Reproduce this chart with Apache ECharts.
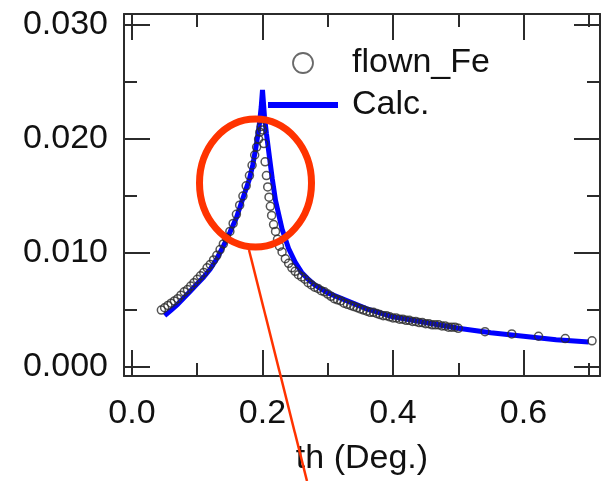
<!DOCTYPE html>
<html><head><meta charset="utf-8">
<script src="https://cdn.jsdelivr.net/npm/echarts@6/dist/echarts.min.js"></script>
<style>html,body{margin:0;padding:0;background:#fff}#c{width:612px;height:481px}</style>
</head><body><div id="c"></div>
<script>
// Tick values
const xMajor = [0, 0.2, 0.4, 0.6];
const xMinor = [0.1, 0.3, 0.5, 0.7];
const yMajor = [0, 0.01, 0.02, 0.03];
const yMinor = [0.005, 0.015, 0.025];

// Measured data: flown_Fe
const measX = [0.045,0.050,0.055,0.060,0.065,0.070,0.075,0.080,0.085,0.090,0.095,0.100,0.105,0.110,0.115,0.120,0.125,0.130,0.135,0.140,0.145,0.150,0.155,0.160,0.165,0.170,0.175,0.180,0.184,0.188,0.191,0.194,0.196,0.198,0.200,0.202,0.204,0.206,0.208,0.210,0.212,0.214,0.217,0.220,0.223,0.226,0.230,0.235,0.240,0.245,0.250,0.255,0.260,0.265,0.270,0.275,0.280,0.285,0.290,0.295,0.300,0.305,0.310,0.315,0.320,0.325,0.330,0.335,0.340,0.345,0.350,0.355,0.360,0.365,0.370,0.375,0.380,0.385,0.390,0.395,0.400,0.405,0.410,0.415,0.420,0.425,0.430,0.435,0.440,0.445,0.450,0.455,0.460,0.465,0.470,0.475,0.480,0.485,0.490,0.495,0.500,0.541,0.582,0.623,0.664,0.705];
const measY = [0.0050,0.0052,0.0054,0.0056,0.0058,0.0060,0.0063,0.0066,0.0068,0.0071,0.0074,0.0077,0.0080,0.0083,0.0087,0.0090,0.0094,0.0098,0.0103,0.0108,0.0113,0.0119,0.0126,0.0134,0.0142,0.0150,0.0159,0.0168,0.0177,0.0186,0.0193,0.0200,0.0206,0.0211,0.0208,0.0196,0.0180,0.0168,0.0158,0.0149,0.0141,0.0133,0.0125,0.0119,0.0112,0.0106,0.0101,0.0095,0.0091,0.0087,0.0084,0.0081,0.0079,0.0077,0.0074,0.0072,0.0070,0.0069,0.0067,0.0066,0.0064,0.0062,0.0060,0.0059,0.0058,0.0056,0.0055,0.0054,0.0053,0.0052,0.0051,0.0050,0.0049,0.0048,0.0048,0.0047,0.0046,0.0045,0.0045,0.0044,0.0043,0.0043,0.0042,0.0042,0.0041,0.0041,0.0040,0.0040,0.0039,0.0039,0.0038,0.0038,0.0037,0.0037,0.0037,0.0036,0.0036,0.0035,0.0035,0.0035,0.0034,0.0031,0.0029,0.0027,0.0025,0.0023];

// Calculated curve: Calc.
const calcX = [0.05,0.06,0.07,0.08,0.09,0.10,0.11,0.12,0.13,0.14,0.15,0.16,0.17,0.18,0.185,0.19,0.195,0.198,0.2,0.203,0.206,0.21,0.215,0.22,0.23,0.24,0.25,0.26,0.27,0.28,0.30,0.33,0.36,0.40,0.45,0.50,0.55,0.60,0.65,0.70];
const calcY = [0.0045,0.0050,0.0055,0.0061,0.0067,0.0073,0.0079,0.0086,0.0095,0.0106,0.0118,0.0131,0.0148,0.0165,0.0177,0.0193,0.0212,0.0228,0.0243,0.0220,0.0205,0.0187,0.0165,0.0146,0.0121,0.0104,0.0092,0.0083,0.0077,0.0072,0.0065,0.0058,0.0051,0.0044,0.0039,0.0034,0.0030,0.0027,0.0024,0.0022];

const X_MIN = -0.01226, X_MAX = 0.71724;
const Y_MIN = -0.000787, Y_MAX = 0.03097;
const FONT = 'Liberation Sans, Arial, sans-serif';
const AX = '#2b2b2b';
const FS = 34;

function xAxis(pos, ticks, len, label, line) {
  return {
    type: 'value', position: pos, min: X_MIN, max: X_MAX,
    axisLine: { show: line, onZero: false, lineStyle: { color: AX, width: 2 } },
    axisTick: { show: true, inside: true, length: len, customValues: ticks, lineStyle: { color: AX, width: 2 } },
    axisLabel: { show: label, customValues: xMajor, formatter: v => v.toFixed(1), fontSize: FS, fontFamily: FONT, color: '#111', margin: 21 },
    splitLine: { show: false },
    name: label ? 'th (Deg.)' : '', nameLocation: 'middle', nameGap: 66,
    nameTextStyle: { fontSize: FS, fontFamily: FONT, color: '#111' }
  };
}
function yAxis(pos, ticks, len, label, line) {
  return {
    type: 'value', position: pos, min: Y_MIN, max: Y_MAX,
    axisLine: { show: line, onZero: false, lineStyle: { color: AX, width: 2 } },
    axisTick: { show: true, inside: true, length: len, customValues: ticks, lineStyle: { color: AX, width: 2 } },
    axisLabel: { show: label, customValues: yMajor, formatter: v => v.toFixed(3), fontSize: FS, fontFamily: FONT, color: '#111', margin: 16 },
    splitLine: { show: false }
  };
}

const chart = echarts.init(document.getElementById('c'), null, { renderer: 'canvas' });
chart.setOption({
  animation: false,
  backgroundColor: '#fff',
  grid: { left: 124, right: 12, top: 14, bottom: 104, containLabel: false },
  xAxis: [
    xAxis('bottom', xMajor, 26, true, true),
    xAxis('bottom', xMinor, 13, false, false),
    xAxis('top', xMajor, 26, false, true),
    xAxis('top', xMinor, 13, false, false)
  ],
  yAxis: [
    yAxis('left', yMajor, 26, true, true),
    yAxis('left', yMinor, 13, false, false),
    yAxis('right', yMajor, 26, false, true),
    yAxis('right', yMinor, 13, false, false)
  ],
  legend: {
    orient: 'vertical', left: 268, top: 44, padding: 0,
    itemWidth: 70, itemHeight: 20, itemGap: 4, symbolKeepAspect: true,
    textStyle: { fontSize: FS, fontFamily: FONT, color: '#111', lineHeight: 38, padding: [0, 0, 0, 9] },
    data: [
      { name: 'flown_Fe', icon: 'circle', itemStyle: { color: 'rgba(255,255,255,0)', borderColor: '#444', borderWidth: 1.8 } },
      { name: 'Calc.', icon: 'path://M0,0L70,0L70,6L0,6Z' }
    ]
  },
  series: [
    {
      name: 'flown_Fe', type: 'scatter', xAxisIndex: 0, yAxisIndex: 0,
      data: measX.map((x, i) => [x, measY[i]]),
      symbol: 'circle', symbolSize: 8,
      itemStyle: { color: 'rgba(255,255,255,0)', borderColor: '#2a2a2a', borderWidth: 1.5 },
      z: 3
    },
    {
      name: 'Calc.', type: 'line', xAxisIndex: 0, yAxisIndex: 0,
      data: calcX.map((x, i) => [x, calcY[i]]),
      symbol: 'none', showSymbol: false,
      lineStyle: { color: '#0000ff', width: 5 }, itemStyle: { color: '#0000ff' },
      z: 2
    }
  ],
  graphic: [
    { type: 'ellipse', z: 100, shape: { cx: 255.5, cy: 183, rx: 56, ry: 64 }, style: { fill: null, stroke: '#ff3300', lineWidth: 7 } },
    { type: 'line', z: 100, shape: { x1: 249, y1: 250, x2: 307, y2: 481 }, style: { stroke: '#ff3300', lineWidth: 2.5 } }
  ]
});
</script>
</body></html>
